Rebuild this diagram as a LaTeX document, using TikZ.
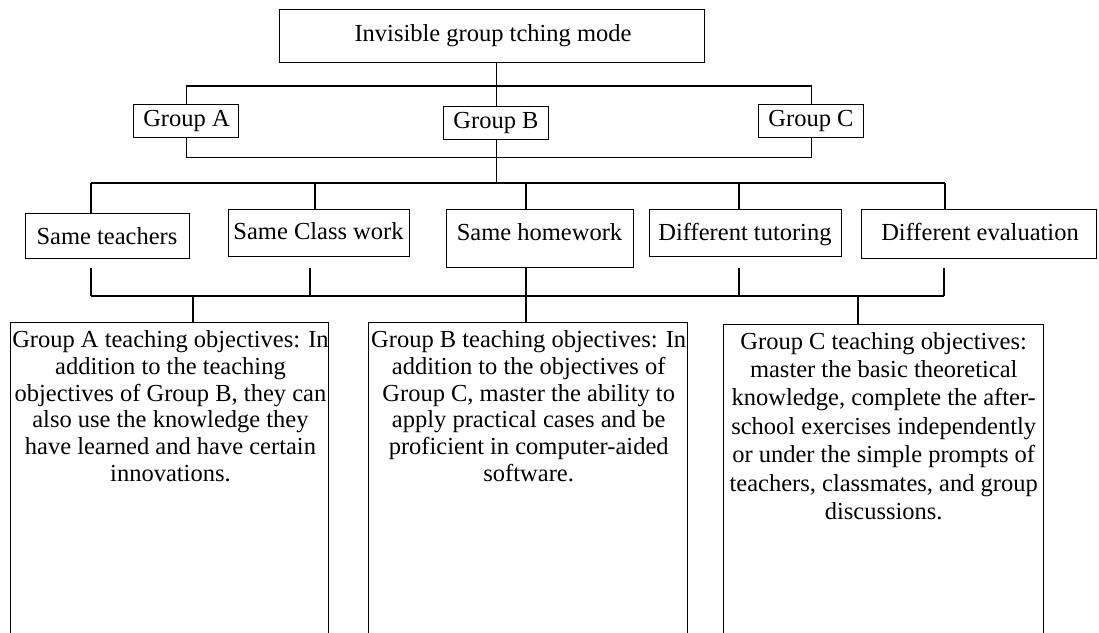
\documentclass[tikz,border=0pt]{standalone}
\usepackage{fontspec}
\setmainfont{Liberation Serif}
\begin{document}
\begin{tikzpicture}[x=1pt,y=-1pt,
  frame/.style={draw, line width=1.4pt, inner sep=0pt, anchor=north west},
  wire/.style={line width=1.4pt},
  lbl/.style={font=\fontsize{24.5}{27}\selectfont, inner sep=0pt, anchor=base},
  para/.style={font=\fontsize{24.5}{26.8}\selectfont, align=center, inner sep=0pt, anchor=north}]
\useasboundingbox (0,0) rectangle (1099,632);
\clip (0,0) rectangle (1099,632);

% root and the three groups
\node[frame, minimum width=425pt, minimum height=53pt] (root) at (279,9) {};
\node[lbl] (rootT) at (493,41) {Invisible group tching mode};

\node[frame, minimum width=105pt, minimum height=33pt] (gA) at (133,104) {};
\node[frame, minimum width=105pt, minimum height=33pt] (gB) at (443,106) {};
\node[frame, minimum width=105pt, minimum height=33pt] (gC) at (758,104) {};
\node[lbl] (gAT) at (186.5,126) {Group A};
\node[lbl] (gBT) at (496,128) {Group B};
\node[lbl] (gCT) at (811,126) {Group C};

\draw[wire] (gB.north |- root.south) -- (gB.north);
\draw[wire] (gA.north) -- ++(0,-18) -| (gC.north);
\draw[wire] (gA.south) -- ++(0,19) -| (gC.south);

% shared and differing measures
\node[frame, minimum width=164pt, minimum height=45pt] (st) at (25,213) {};
\node[frame, minimum width=181pt, minimum height=47pt] (sc) at (228,209) {};
\node[frame, minimum width=187pt, minimum height=58pt] (sh) at (446,209) {};
\node[frame, minimum width=192pt, minimum height=47pt] (dt) at (649,209) {};
\node[frame, minimum width=235pt, minimum height=49pt] (de) at (861,209) {};
\node[lbl] (stT) at (107,244) {Same teachers};
\node[lbl] (scT) at (318.5,239) {Same Class work};
\node[lbl] (shT) at (539.5,240) {Same homework};
\node[lbl] (dtT) at (745,240) {Different tutoring};
\node[lbl] (deT) at (980,240) {Different evaluation};

\coordinate (busU) at (gB.south |- 0,183);
\draw[wire] (gB.south) -- (busU);
\draw[wire] (busU -| 91,0) -- (busU -| 945,0);
\draw[wire] (busU -| 91,0) -- (st.north -| 91,0);
\draw[wire] (busU -| 315,0) -- (sc.north -| 315,0);
\draw[wire] (busU -| 526,0) -- (sh.north -| 526,0);
\draw[wire] (busU -| 739,0) -- (dt.north -| 739,0);
\draw[wire] (busU -| 945,0) -- (de.north -| 945,0);

\coordinate (busL) at (526,296);
\draw[wire] (busL -| 91,0) -- (busL -| 944,0);
\draw[wire] (sh.south -| 91,0) -- (busL -| 91,0);
\draw[wire] (sh.south -| 310,0) -- (busL -| 310,0);
\draw[wire] (sh.south -| 526,0) -- (busL -| 526,0);
\draw[wire] (sh.south -| 739,0) -- (busL -| 739,0);
\draw[wire] (sh.south -| 944,0) -- (busL -| 944,0);

% teaching objectives of each group
\node[frame, minimum width=318.5pt, minimum height=400pt] (oA) at (9.5,322) {};
\node[frame, minimum width=319pt, minimum height=400pt] (oB) at (368,322) {};
\node[frame, minimum width=320pt, minimum height=400pt] (oC) at (723,324) {};

\draw[wire] (busL -| 193,0) -- (oA.north -| 193,0);
\draw[wire] (busL) -- (oB.north -| 526,0);
\draw[wire] (busL -| 858,0) -- (oC.north -| 858,0);

\node[para] (oAT) at ([xshift=1pt,yshift=-8.3pt]oA.north) {Group A teaching objectives: In\\addition to the teaching\\objectives of Group B, they can\\also use the knowledge they\\have learned and have certain\\innovations.};
\node[para] (oBT) at ([xshift=0.5pt,yshift=-8.3pt]oB.north) {Group B teaching objectives: In\\addition to the objectives of\\Group C, master the ability to\\apply practical cases and be\\proficient in computer-aided\\software.};
\node[para, font=\fontsize{24.5}{28.4}\selectfont] (oCT) at ([yshift=-7.8pt]oC.north) {Group C teaching objectives:\\master the basic theoretical\\knowledge, complete the after-\\school exercises independently\\or under the simple prompts of\\teachers, classmates, and group\\discussions.};
\end{tikzpicture}
\end{document}
